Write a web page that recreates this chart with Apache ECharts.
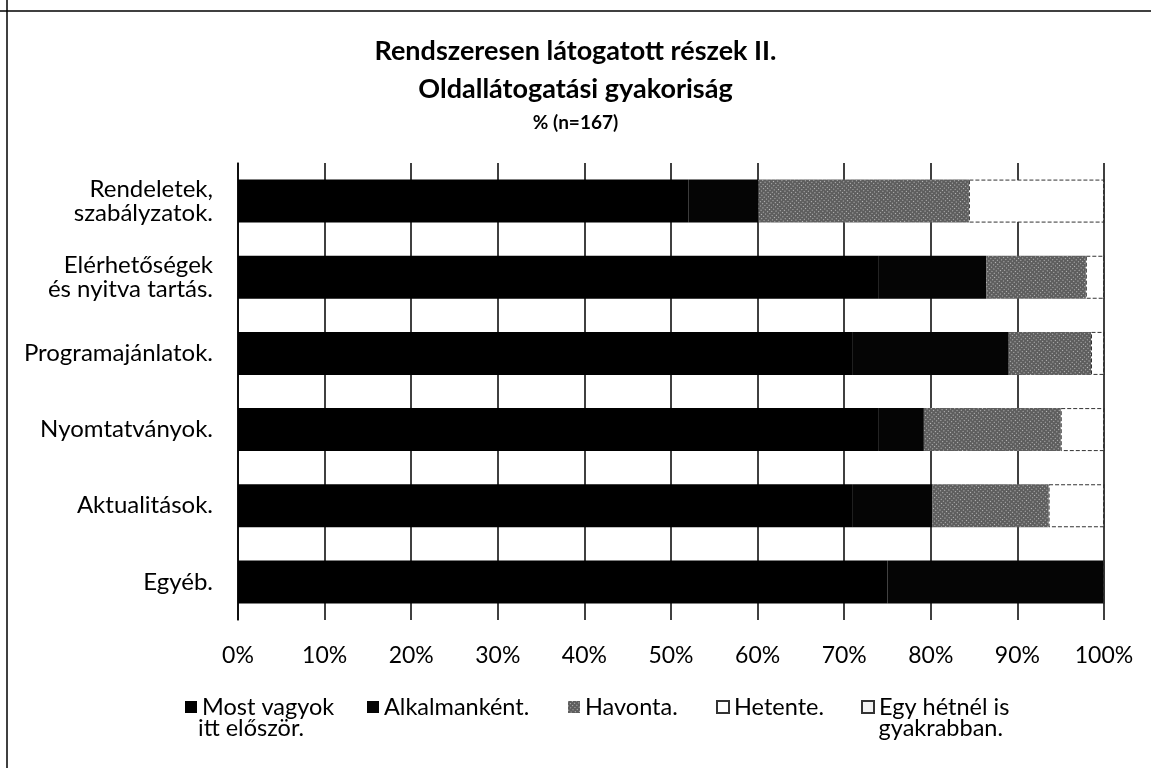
<!DOCTYPE html>
<html>
<head>
<meta charset="utf-8">
<script src="https://cdn.jsdelivr.net/npm/echarts@6/dist/echarts.min.js"></script>
<style>html,body{margin:0;padding:0;background:#fff}#c{width:1151px;height:768px}</style>
</head>
<body>
<div id="c"></div>
<script>
const categories = ['Rendeletek,\nszabályzatok.', 'Elérhetőségek\nés nyitva tartás.', 'Programajánlatok.', 'Nyomtatványok.', 'Aktualitások.', 'Egyéb.'];
const seriesNames = ['Most vagyok itt először.', 'Alkalmanként.', 'Havonta.', 'Hetente.', 'Egy hétnél is gyakrabban.'];
const mostVagyok   = [52, 74, 71, 74, 71, 75];
const alkalmankent = [8.1, 12.4, 18, 5.2, 9.2, 25];
const havonta      = [24.3, 11.5, 9.5, 15.8, 13.4, 0];
const hetente      = [15.6, 2.1, 1.5, 5, 6.4, 0];
const egyHetnel    = [0, 0, 0, 0, 0, 0];
const xTicks = ['0%','10%','20%','30%','40%','50%','60%','70%','80%','90%','100%'];
const legendLine1 = ['Most vagyok', 'Alkalmanként.', 'Havonta.', 'Hetente.', 'Egy hétnél is'];
const legendLine2 = ['itt először.', '', '', '', 'gyakrabban.'];

const FONT = 'Lato, "Open Sans", sans-serif';
const values = [mostVagyok, alkalmankent, havonta, hetente, egyHetnel];
const styles = [
  {color:'#000000'},
  {color:'#050505'},
  {color:'#5e5e5e', decal:{symbol:'rect', symbolSize:1, color:'rgba(255,255,255,0.6)', dashArrayX:[1,2], dashArrayY:[1,2], rotation:0.7}},
  {color:'#ffffff', borderColor:'#333', borderType:'dashed', borderWidth:1},
  {color:'#f3f3f3', borderColor:'#333', borderType:'dashed', borderWidth:1}
];

const series = seriesNames.map((n,i)=>({
  name:n, type:'bar', stack:'t', barWidth:43,
  data: values[i],
  itemStyle: styles[i],
  emphasis:{disabled:true}
}));

const legendLeft = [180, 362, 563, 711, 856];
const legends = seriesNames.map((n,i)=>({
  left: legendLeft[i], top: 690,
  itemWidth: 12, itemHeight: 12, itemGap: 0,
  icon: 'rect',
  selectedMode:false,
  data:[n],
  formatter: ()=>legendLine1[i],
  textStyle:{fontFamily:FONT, fontSize:23.5, color:'#000'}
}));

const chart = echarts.init(document.getElementById('c'), null, {renderer:'canvas'});
chart.setOption({
  animation:false,
  aria:{enabled:false, decal:{show:false}},
  title:[
    {text:'Rendszeresen látogatott részek II.', left:'center', top:33, textStyle:{fontFamily:FONT, fontSize:27, fontWeight:'bold', color:'#000'}},
    {text:'Oldallátogatási gyakoriság', left:'center', top:71, textStyle:{fontFamily:FONT, fontSize:27, fontWeight:'bold', color:'#000'}},
    {text:'% (n=167)', left:'center', top:108, textStyle:{fontFamily:FONT, fontSize:19, fontWeight:'bold', color:'#000'}}
  ],
  legend: legends,
  grid:{left:238, right:47, top:163, bottom:148, containLabel:false},
  xAxis:{
    type:'value', min:0, max:100, interval:10,
    axisLine:{show:false}, axisTick:{show:false},
    splitLine:{show:true, lineStyle:{color:'#000', width:1.5}},
    axisLabel:{fontFamily:FONT, fontSize:23, color:'#000', margin:24, formatter:(v)=>xTicks[Math.round(v/10)]}
  },
  yAxis:{
    type:'category', inverse:true, data:categories,
    axisLine:{show:true, lineStyle:{color:'#000', width:1.5}},
    axisTick:{show:false},
    axisLabel:{fontFamily:FONT, fontSize:24, color:'#000', margin:25, lineHeight:24, align:'right'}
  },
  series: series,
  graphic:[
    {type:'line', shape:{x1:7, y1:0, x2:7, y2:768}, style:{stroke:'#000', lineWidth:1.5}},
    {type:'line', shape:{x1:0, y1:11, x2:1151, y2:11}, style:{stroke:'#000', lineWidth:1.5}},
    {type:'text', left:198, top:716, style:{text:legendLine2[0], font:'23.5px ' + FONT, fill:'#000'}},
    {type:'text', right:148, top:716, style:{text:legendLine2[4], font:'23.5px ' + FONT, fill:'#000', textAlign:'right'}}
  ]
});
</script>
</body>
</html>
